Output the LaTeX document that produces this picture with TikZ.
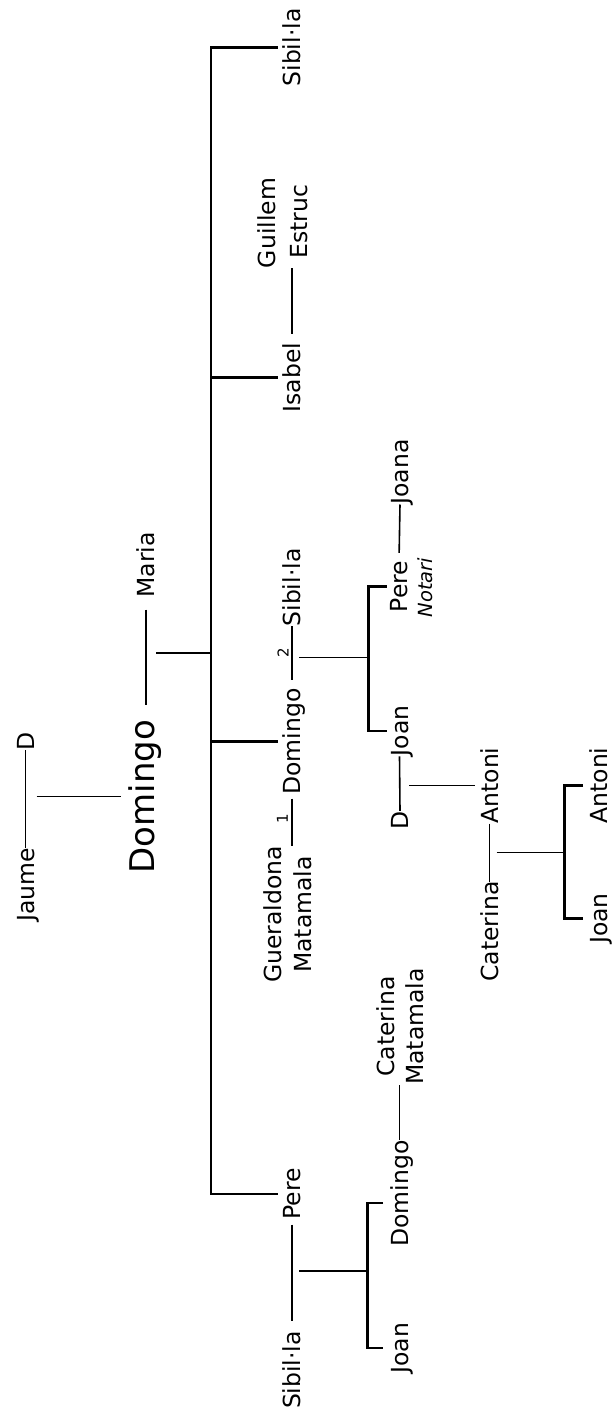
\documentclass[tikz,border=0pt]{standalone}
\usepackage{fontspec}
\setmainfont{DejaVu Sans}
\usetikzlibrary{calc}
\begin{document}
\begin{tikzpicture}[x=1pt,y=-1pt,
  per/.style={rotate=90,inner sep=0pt,outer sep=0pt,font=\fontsize{23.5}{28}\selectfont,text height=17pt,text depth=0pt},
  bigper/.style={per,font=\fontsize{34}{40}\selectfont,text height=25pt},
  note/.style={per,font=\fontsize{19.5}{24}\selectfont\itshape,text height=14pt},
  num/.style={rotate=90,inner sep=0pt,outer sep=0pt,font=\fontsize{15}{18}\selectfont},
  ln/.style={line width=1.6pt},
  trunk/.style={line width=2.1pt}]
\useasboundingbox (0,0) rectangle (613,1418);
% people
\node[per] (dA) at (25.5,741) {D};
\node[per] (jaume) at (25.5,885) {Jaume};
\node[bigper] (bigdom) at (142,796.5) {Domingo};
\node[per] (maria) at (146,565) {Maria};
\node[per] (sibA) at (292,47.5) {Sibil·la};
\node[per] (isabel) at (292,377.5) {Isabel};
\node[per] (guillem) at (267,223) {Guillem};
\node[per] (estruc) at (299,221.5) {Estruc};
\node[per] (sibB) at (292,587.5) {Sibil·la};
\node[per] (dom2) at (292,741.5) {Domingo};
\node[per] (guer) at (272.5,914.5) {Gueraldona};
\node[per] (mata1) at (302.5,914.5) {Matamala};
\node[per] (pereB) at (292,1194) {Pere};
\node[per] (sibC) at (292,1370) {Sibil·la};
\node[per] (joana) at (400,472) {Joana};
\node[per] (pereN) at (399,586.5) {Pere};
\node[note] (notari) at (425.5,587.5) {Notari};
\node[per] (joan1) at (399.5,731) {Joan};
\node[per] (dB) at (400,820) {D};
\node[per] (antoni1) at (489.5,785.5) {Antoni};
\node[per] (caterina) at (489.5,931.5) {Caterina};
\node[per] (antoni2) at (599,785.5) {Antoni};
\node[per] (joan2) at (599,918.5) {Joan};
\node[per] (dom3) at (399.5,1193.5) {Domingo};
\node[per] (cater2) at (385.5,1026.5) {Caterina};
\node[per] (mata2) at (414.5,1026.5) {Matamala};
\node[per] (joan3) at (399.5,1348) {Joan};
\node[num] (two) at (283,652.5) {2};
\node[num] (one) at (282.5,819) {1};
% helper coordinates
\coordinate (tr) at (211,0);
\coordinate (dmc) at (146,653);
\coordinate (c2) at (292,657.3);
\coordinate (c3) at (292,1271);
\coordinate (c5) at (490,852.3);
\coordinate (b1x) at (368.5,0);
\coordinate (b2x) at (367.5,0);
\coordinate (b3x) at (564.5,0);
% trunk
\draw[trunk,shorten <=6pt,shorten >=6pt] (sibA.north) -- (sibA.north -| tr) -- (pereB.north -| tr) -- (pereB.north);
\draw[trunk,shorten >=6pt] (isabel.north -| tr) -- (isabel.north);
\draw[trunk,shorten >=6pt] (dom2.north -| tr) -- (dom2.north);
% Jaume - D
\draw[ln] (dA.west) -- (jaume.east);
\draw[ln,shorten >=8.5pt] ($(dA.west |- bigdom.north)+(11,0)$) -- (bigdom.north);
% Domingo - Maria
\draw[ln,shorten <=12pt,shorten >=15pt] (maria.west) -- (maria.west |- bigdom.east);
\draw[ln] ($(dmc)+(10,0)$) -- (dmc -| tr);
% Isabel - Guillem Estruc
\draw[ln,shorten <=9pt] (isabel.east) -- (isabel.east |- guillem.west);
% Domingo - Sibil·la (2)
\draw[ln,shorten >=8pt] (sibB.west) -- (dom2.east);
\draw[ln] ($(c2)+(7,0)$) -- (c2 -| b1x);
\draw[trunk] ($(pereN.north)+(-4,0)$) -- (pereN.north -| b1x) -- (joan1.north -| b1x) -- ($(joan1.north)+(-4,0)$);
% Domingo - Gueraldona (1)
\draw[ln,shorten <=4pt] (dom2.west) -- (dom2.west |- guer.east);
% Pere Notari - Joana
\draw[ln,shorten >=8pt] (joana.west) -- (pereN.east);
% Joan - D
\draw[ln] (joan1.west) -- (dB.east);
\draw[ln,shorten >=6pt] ($(joan1.west |- antoni1.north)+(9.5,0)$) -- (antoni1.north);
% Antoni - Caterina
\draw[ln] (antoni1.west) -- (caterina.east);
\draw[ln] ($(c5)+(6.5,0)$) -- (c5 -| b3x);
\draw[trunk] ($(antoni2.north)+(-7.5,0)$) -- (antoni2.north -| b3x) -- (joan2.north -| b3x) -- ($(joan2.north)+(-7.5,0)$);
% Pere - Sibil·la
\draw[ln,shorten <=5pt,shorten >=10pt] (pereB.west) -- (sibC.east);
\draw[ln] ($(c3)+(7,0)$) -- (c3 -| b2x);
\draw[trunk] ($(dom3.north)+(-8,9.5)$) -- ($(dom3.north -| b2x)+(0,9.5)$) -- (joan3.north -| b2x) -- ($(joan3.north)+(-8,0)$);
% Domingo - Caterina Matamala
\draw[ln] (dom3.east) -- (dom3.east |- mata2.west);
\end{tikzpicture}
\end{document}
